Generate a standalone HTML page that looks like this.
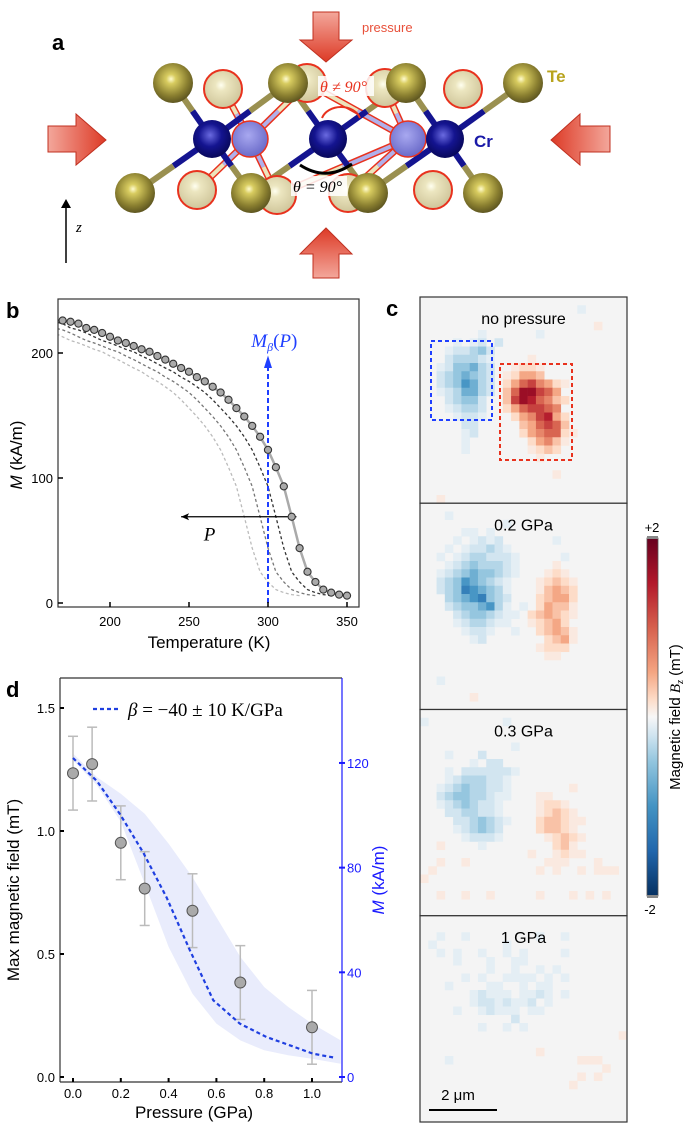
<!DOCTYPE html>
<html><head><meta charset="utf-8"><style>
html,body{margin:0;padding:0;background:#fff}
svg{display:block;font-family:"Liberation Sans",sans-serif}
</style></head><body>
<svg id="fig" width="685" height="1128" viewBox="0 0 685 1128" xmlns="http://www.w3.org/2000/svg">
<defs>
<radialGradient id="gTe" cx="0.45" cy="0.4" r="0.6"><stop offset="0" stop-color="#fffbd0"/><stop offset="0.2" stop-color="#d8cc60"/><stop offset="0.7" stop-color="#8a7f30"/><stop offset="1" stop-color="#5e5620"/></radialGradient>
<radialGradient id="gTeL" cx="0.45" cy="0.4" r="0.6"><stop offset="0" stop-color="#fffff0"/><stop offset="0.25" stop-color="#ece6c0"/><stop offset="1" stop-color="#cfc59a"/></radialGradient>
<radialGradient id="gCr" cx="0.45" cy="0.4" r="0.6"><stop offset="0" stop-color="#6a6ae0"/><stop offset="0.5" stop-color="#141490"/><stop offset="1" stop-color="#08085a"/></radialGradient>
<radialGradient id="gCrL" cx="0.45" cy="0.4" r="0.6"><stop offset="0" stop-color="#a8a8f0"/><stop offset="1" stop-color="#6a6ac8"/></radialGradient>
<linearGradient id="gArrH" x1="0" x2="1"><stop offset="0" stop-color="#f3a79b"/><stop offset="1" stop-color="#dd3a26"/></linearGradient>
<linearGradient id="gArrH2" x1="1" x2="0"><stop offset="0" stop-color="#f3a79b"/><stop offset="1" stop-color="#dd3a26"/></linearGradient>
<linearGradient id="gArrV" x1="0" x2="0" y1="0" y2="1"><stop offset="0" stop-color="#f3a79b"/><stop offset="1" stop-color="#dd3a26"/></linearGradient>
<linearGradient id="gArrV2" x1="0" x2="0" y1="1" y2="0"><stop offset="0" stop-color="#f3a79b"/><stop offset="1" stop-color="#dd3a26"/></linearGradient>
<linearGradient id="gCbar" x1="0" x2="0" y1="0" y2="1">
<stop offset="0" stop-color="#67001f"/><stop offset="0.125" stop-color="#b2182b"/><stop offset="0.25" stop-color="#d6604d"/><stop offset="0.375" stop-color="#f4a582"/><stop offset="0.45" stop-color="#fddbc7"/><stop offset="0.5" stop-color="#f7f7f7"/><stop offset="0.55" stop-color="#d1e5f0"/><stop offset="0.625" stop-color="#92c5de"/><stop offset="0.75" stop-color="#4393c3"/><stop offset="0.875" stop-color="#2166ac"/><stop offset="1" stop-color="#053061"/></linearGradient>
<clipPath id="clipB"><rect x="58" y="299" width="301" height="308"/></clipPath>
<clipPath id="clipD"><rect x="60" y="678" width="282" height="404"/></clipPath>
</defs>

<!-- Panel a -->
<g id="panelA">
<text x="52" y="50" font-size="22" font-weight="bold">a</text>
<g id="bonds"></g>
<g id="atoms"></g>
<path d="M322 118 A20 16 0 0 1 360 118" fill="none" stroke="#e8321e" stroke-width="2"/>
<path d="M300 165 Q326 182 352 164" fill="none" stroke="#000" stroke-width="3"/>
<rect x="318" y="76" width="56" height="20" fill="#fff" opacity="0.85"/>
<text x="320" y="92" font-size="16" fill="#e8321e" font-family="Liberation Serif,serif" font-style="italic">θ ≠ 90°</text>
<rect x="291" y="176" width="56" height="20" fill="#fff" opacity="0.85"/>
<text x="293" y="192" font-size="16" fill="#000" font-family="Liberation Serif,serif" font-style="italic">θ = 90°</text>
<text x="547" y="82" font-size="17" fill="#b8a31c" font-weight="bold">Te</text>
<text x="474" y="147" font-size="17" fill="#1a1aa8" font-weight="bold">Cr</text>
<path d="M313 12 H339 V40 H352 L326 62 L300 40 H313 Z" fill="url(#gArrV)" stroke="#c03020" stroke-width="1"/>
<text x="362" y="32" font-size="13" fill="#e8503a">pressure</text>
<path d="M313 278 H339 V254 H352 L326 228 L300 254 H313 Z" fill="url(#gArrV2)" stroke="#c03020" stroke-width="1"/>
<path d="M48 126 H76 V114 L106 140 L76 165 V152 H48 Z" fill="url(#gArrH)" stroke="#c03020" stroke-width="1"/>
<path d="M610 126 H580 V114 L551 140 L580 165 V152 H610 Z" fill="url(#gArrH2)" stroke="#c03020" stroke-width="1"/>
<line x1="66" y1="263" x2="66" y2="205" stroke="#000" stroke-width="1.5"/>
<path d="M61 208 L66 199 L71 208 Z" fill="#000"/>
<text x="76" y="232" font-size="15" font-style="italic" font-family="Liberation Serif,serif">z</text>
</g>

<!-- Panel b -->
<g id="panelB">
<text x="6" y="318" font-size="22" font-weight="bold">b</text>
<g id="bContent" clip-path="url(#clipB)"></g>
<rect x="58" y="299" width="301" height="308" fill="none" stroke="#333" stroke-width="1.2"/>
<g id="bAxes"></g>
<text x="209" y="648" font-size="17" text-anchor="middle">Temperature (K)</text>
<text transform="translate(22,455) rotate(-90)" font-size="17" text-anchor="middle"><tspan font-style="italic">M</tspan> (kA/m)</text>
</g>

<!-- Panel d -->
<g id="panelD">
<text x="6" y="697" font-size="22" font-weight="bold">d</text>
<g id="dContent" clip-path="url(#clipD)"></g>
<g id="dAxes"></g>
<line x1="93" y1="709" x2="120" y2="709" stroke="#1f3fe0" stroke-width="2.2" stroke-dasharray="4,3"/>
<text x="128" y="716" font-size="19" font-family="Liberation Serif,serif"><tspan font-style="italic">β</tspan> = −40 ± 10 K/GPa</text>
<text x="194" y="1118" font-size="17" text-anchor="middle">Pressure (GPa)</text>
<text transform="translate(19,890) rotate(-90)" font-size="17" text-anchor="middle">Max magnetic field (mT)</text>
<text transform="translate(384,880) rotate(-90)" font-size="17" text-anchor="middle" fill="#1a1aff"><tspan font-style="italic">M</tspan> (kA/m)</text>
</g>

<!-- Panel c -->
<g id="panelC">
<text x="386" y="316" font-size="22" font-weight="bold">c</text>
<g id="cMaps"></g>
<rect x="647" y="538" width="11" height="358" fill="url(#gCbar)" stroke="#555" stroke-width="0.8"/>
<rect x="647" y="536" width="11" height="3" fill="#888"/>
<rect x="647" y="895" width="11" height="3" fill="#888"/>
<text x="652" y="532" font-size="13" text-anchor="middle">+2</text>
<text x="650" y="914" font-size="13" text-anchor="middle">-2</text>
<text transform="translate(680,717) rotate(-90)" font-size="15" text-anchor="middle">Magnetic field <tspan font-style="italic" font-family="Liberation Serif,serif">B<tspan font-size="10" dy="3">z</tspan></tspan><tspan dy="-3"> (mT)</tspan></text>
<line x1="429" y1="1110" x2="497" y2="1110" stroke="#000" stroke-width="2"/>
<text x="458" y="1100" font-size="15" text-anchor="middle">2 μm</text>
</g>
</svg>
<script>
var NS="http://www.w3.org/2000/svg";
// ---- Panel b data ----
var tempK=[170,175,180,185,190,195,200,205,210,215,220,225,230,235,240,245,250,255,260,265,270,275,280,285,290,295,300,305,310,315,320,325,330,335,340,345,350];
var magM=[226,225,223.5,220,218.5,216,213,210,208,205.6,203,201,197.6,194.7,191.4,188,185,180.7,177.3,173,168.4,162.6,155.9,149.2,141.7,133,122.5,108.6,93.3,69,43.9,25,16.8,10.7,8.3,6.7,5.9];
var curveShifts=[10,20,30];
var curveColors=["#333","#777","#bbb"];
var bXTicks=[200,250,300,350];
var bYTicks=[0,100,200];
// ---- Panel d data ----
var pressure=[0,0.08,0.2,0.3,0.5,0.7,1.0];
var maxField=[1.235,1.272,0.952,0.766,0.676,0.384,0.202];
var fieldErr=[0.15,0.15,0.15,0.15,0.15,0.15,0.15];
var fitP=[0,0.1,0.197,0.294,0.392,0.489,0.587,0.698,0.809,0.907,1.004,1.10];
var fitM=[121.9,113.1,100.4,85.7,68.5,48.4,29.3,20.4,15.3,12.1,8.9,7.3];
var bandP=[0,0.1,0.2,0.3,0.4,0.5,0.6,0.7,0.8,0.9,1.0,1.12];
var bandUpper=[123.6,114.6,108.2,100.6,89.2,76.4,61.1,45.9,34.4,26.8,20.4,14.0];
var bandLower=[121.0,111.5,97.5,73.9,49.7,31.8,20.4,14.0,10.2,8.3,7.0,5.1];
var dXTicks=[0,0.2,0.4,0.6,0.8,1.0];
var dYTicks=[0,0.5,1.0,1.5];
var dRTicks=[0,40,80,120];
// ---- Panel c data (a-i = negative 1..9, 1-9 positive) ----
var mapTitles=["no pressure","0.2 GPa","0.3 GPa","1 GPa"];
var map0=["........................","...................a.....","........................",".....................1...",".......a......a..........","....a.ab.b...............","...abbcdb................","...bcccba....1...........","..abddecb..1221..........","..bcdedcb.12443..........","..bcdfecb.24675421.......","..abceecb.3699764........","...bcddb..37986532.......","...abccb..2467765........","....abba...2457842.......",".....bb.....346763.......",".....ab.....2456621......",".....a.......24531.......",".....a.......1232........","..............1..........","........................","................1........","........................","........................","..1......................"];
var map1=["........................","...a.....................","..........a..............",".....aa.a................","....a.abab......a........","...a.abbcba..............","..a.abccbbba.....a.......","...abcdcccba....1........","..abcdeddcba...121.......","..bcdfedcba...12321......","..bcdgfedca...13432......","...cdefgdcb...23442......","...bcddefca.a.24331......","....bcddcbaa.234321......","....abccbaa..12342.......",".....abba..a..23431......","......ab.......2341......","..............1222.......","...............11........","........................","........................","..a......................","........................","......1..................","........................"];
var map2=["........................","a.........a..............","........................","........................","...........a.............","...a...b.................","......a.bb...............","...a.bbbbbba.............","...abcccbba..............","..abcdccbba.......1......","..bcddccbaa...11.........","..abcdcbba....1221.......","...bbccbba....12321......","....bbcdcba...233211.....","....abcdcb....23321......",".....abbba.....12321.....","..1....a........231......",".............1..1211.....","..1..1.........111...1...",".1............1.1..1.111.","1........................","........................","..1..1..1.....1...1.1.1..","........................","........................"];
var map3=["........................","........................","..a..a........a..a.......",".a........a..............","..a.a..a..a.a....a.......","....a...a..aa............","........a..a..a.a........",".....a.a..aaaa.a.a.......","...a....aa..a.aa.........","......abaaa.aaba.a.......","......abbabaab.a.........","....a..abaaa.aa..........","...........b.............",".......a..a.a............","........................1","........................","..............1..........","...a...............111...","......................1..","...................1.1...","..................1......","........................","........................","........................","........................"];
var maps=[map0,map1,map2,map3];

function el(tag,attrs,parent){var e=document.createElementNS(NS,tag);for(var k in attrs)e.setAttribute(k,attrs[k]);parent.appendChild(e);return e;}

// ---- Panel a ----
(function(){
 var bonds=document.getElementById('bonds'),atoms=document.getElementById('atoms');
 var teTop=[[173,83],[288,83],[406,83],[523,83]],teBot=[[135,193],[251,193],[368,193],[483,193]];
 var teTopL=[[223,89],[307,83],[385,88],[463,89]],teBotL=[[197,190],[277,195],[348,193],[433,190]];
 var cr=[[212,139],[328,139],[445,139]],crL=[[250,139],[408,139]];
 function bond(a,b,c1,c2,w){var mx=(a[0]+b[0])/2,my=(a[1]+b[1])/2;
  el('line',{x1:a[0],y1:a[1],x2:mx,y2:my,stroke:c1,'stroke-width':w},bonds);
  el('line',{x1:mx,y1:my,x2:b[0],y2:b[1],stroke:c2,'stroke-width':w},bonds);}
 crL.forEach(function(c,i){[teTopL[i+1],teTopL[i],teBotL[i],teBotL[i+1]].forEach(function(t){
   el('line',{x1:c[0],y1:c[1],x2:t[0],y2:t[1],stroke:'#e8321e','stroke-width':7},bonds);
   bond(c,t,'#b0b0ea','#ece4bc',4);});});
 cr.forEach(function(c,i){[teTop[i],teTop[i+1],teBot[i],teBot[i+1]].forEach(function(t){bond(c,t,'#141490','#9a9050',6);});});
 teTopL.concat(teBotL).forEach(function(p){var c=el('circle',{cx:p[0],cy:p[1],r:19,fill:'url(#gTeL)',stroke:'#e8321e','stroke-width':2},atoms);
  });
 crL.forEach(function(p){var c=el('circle',{cx:p[0],cy:p[1],r:18,fill:'url(#gCrL)',stroke:'#e8321e','stroke-width':1.5},atoms);
  });
 cr.forEach(function(p){var c=el('circle',{cx:p[0],cy:p[1],r:19,fill:'url(#gCr)'},atoms);
  });
 teTop.concat(teBot).forEach(function(p){var c=el('circle',{cx:p[0],cy:p[1],r:20,fill:'url(#gTe)'},atoms);
  });
})();

// ---- Panel b ----
function xb(T){return 110+(T-200)*237/150;}
function yb(M){return 603-M*1.25;}
(function(){
 var g=document.getElementById('bContent'),ax=document.getElementById('bAxes');
 curveShifts.forEach(function(s,k){var d=tempK.map(function(T,i){return (i?'L':'M')+xb(T-s).toFixed(1)+' '+yb(magM[i]).toFixed(1);}).join(' ');
  var p=el('path',{d:d,fill:'none',stroke:curveColors[k],'stroke-width':1.3,'stroke-dasharray':'3,2.5'},g);
  });
 var d=tempK.map(function(T,i){return (i?'L':'M')+xb(T).toFixed(1)+' '+yb(magM[i]).toFixed(1);}).join(' ');
 var p=el('path',{d:d,fill:'none',stroke:'#aaa','stroke-width':2.5},g);
 
 var v=el('line',{x1:xb(300),y1:yb(0),x2:xb(300),y2:yb(190),stroke:'#1f3fff','stroke-width':2,'stroke-dasharray':'5,3'},g);
 
 var ah=el('path',{d:'M'+(xb(300)-4)+' '+(yb(188))+' L'+xb(300)+' '+yb(198)+' L'+(xb(300)+4)+' '+yb(188)+' Z',fill:'#1f3fff'},g);
 
 var pa=el('line',{x1:xb(318),y1:yb(69),x2:xb(245),y2:yb(69),stroke:'#000','stroke-width':1.2},g);
 
 el('path',{d:'M'+xb(245)+' '+yb(69)+' l8 -3.5 l-2 3.5 l2 3.5 Z',fill:'#000'},g);
 tempK.forEach(function(T,i){var c=el('circle',{cx:xb(T),cy:yb(magM[i]),r:3.6,fill:'#aaa',stroke:'#333','stroke-width':1.1},g);
  });
 var t=el('text',{x:xb(263),y:yb(50),'font-size':19,'font-style':'italic','font-family':'Liberation Serif,serif','text-anchor':'middle'},ax);t.textContent='P';
 
 var m=el('text',{x:xb(304),y:yb(205),'font-size':19,'font-style':'italic','font-family':'Liberation Serif,serif','text-anchor':'middle',fill:'#1f3fff'},ax);
 m.innerHTML='M<tspan font-size="12" dy="4">β</tspan><tspan dy="-4" font-style="normal">(</tspan>P<tspan font-style="normal">)</tspan>';
 
 bXTicks.forEach(function(T){el('line',{x1:xb(T),y1:607,x2:xb(T),y2:602,stroke:'#000','stroke-width':1.5},ax);
  var tt=el('text',{x:xb(T),y:626,'font-size':13,'text-anchor':'middle'},ax);tt.textContent=T;
  });
 bYTicks.forEach(function(M){el('line',{x1:58,y1:yb(M),x2:63,y2:yb(M),stroke:'#000','stroke-width':1.5},ax);
  var tt=el('text',{x:53,y:yb(M)+5,'font-size':13,'text-anchor':'end'},ax);tt.textContent=M;
  });
})();

// ---- Panel d ----
function xd(P){return 73+P*239;}
function yd(B){return 1077-B*246;}
function yr(M){return 1077-M*2.617;}
(function(){
 var g=document.getElementById('dContent'),ax=document.getElementById('dAxes');
 var d=bandP.map(function(P,i){return (i?'L':'M')+xd(P).toFixed(1)+' '+yr(bandUpper[i]).toFixed(1);}).join(' ');
 for(var i=bandP.length-1;i>=0;i--)d+=' L'+xd(bandP[i]).toFixed(1)+' '+yr(bandLower[i]).toFixed(1);
 var b=el('path',{d:d+' Z',fill:'#e9ecfc'},g);
 pressure.forEach(function(P,i){var x=xd(P);
  var e=el('line',{x1:x,y1:yd(maxField[i]-fieldErr[i]),x2:x,y2:yd(maxField[i]+fieldErr[i]),stroke:'#bbb','stroke-width':1.5},g);
  
  el('line',{x1:x-5,y1:yd(maxField[i]-fieldErr[i]),x2:x+5,y2:yd(maxField[i]-fieldErr[i]),stroke:'#bbb','stroke-width':1.5},g);
  el('line',{x1:x-5,y1:yd(maxField[i]+fieldErr[i]),x2:x+5,y2:yd(maxField[i]+fieldErr[i]),stroke:'#bbb','stroke-width':1.5},g);});
 var fd=fitP.map(function(P,i){return (i?'L':'M')+xd(P).toFixed(1)+' '+yr(fitM[i]).toFixed(1);}).join(' ');
 var f=el('path',{d:fd,fill:'none',stroke:'#1f3fe0','stroke-width':2.2,'stroke-dasharray':'4,3'},g);
 
 pressure.forEach(function(P,i){var c=el('circle',{cx:xd(P),cy:yd(maxField[i]),r:5.5,fill:'#aaa',stroke:'#555','stroke-width':1},g);
  });
 el('line',{x1:60,y1:678,x2:342,y2:678,stroke:'#333','stroke-width':1.2},ax);
 el('line',{x1:60,y1:678,x2:60,y2:1082,stroke:'#333','stroke-width':1.2},ax);
 el('line',{x1:60,y1:1082,x2:342,y2:1082,stroke:'#333','stroke-width':1.2},ax);
 var ra=el('line',{x1:342,y1:678,x2:342,y2:1082,stroke:'#1a1aff','stroke-width':1.2},ax);
 
 dXTicks.forEach(function(P){el('line',{x1:xd(P),y1:1082,x2:xd(P),y2:1078,stroke:'#000','stroke-width':2},ax);
  var t=el('text',{x:xd(P),y:1098,'font-size':13,'text-anchor':'middle'},ax);t.textContent=P.toFixed(1);
  });
 dYTicks.forEach(function(B){el('line',{x1:60,y1:yd(B),x2:64,y2:yd(B),stroke:'#000','stroke-width':2},ax);
  var t=el('text',{x:55,y:yd(B)+5,'font-size':13,'text-anchor':'end'},ax);t.textContent=B.toFixed(1);
  });
 dRTicks.forEach(function(M){el('line',{x1:339,y1:yr(M),x2:345,y2:yr(M),stroke:'#1a1aff','stroke-width':2},ax);
  var t=el('text',{x:347,y:yr(M)+5,'font-size':13,fill:'#1a1aff'},ax);t.textContent=M;
  });
})();

// ---- Panel c ----
var posStops=[[247,247,247],[253,219,199],[244,165,130],[214,96,77],[178,24,43],[120,0,30]];
var negStops=[[247,247,247],[209,229,240],[146,197,222],[67,147,195],[33,102,172],[5,48,97]];
function cmap(v){var st=v>=0?posStops:negStops;var f=Math.min(Math.abs(v)/9,1)*4.4;var i=Math.min(Math.floor(f),4),t=f-i;
 var a=st[i],b=st[i+1];return 'rgb('+a.map(function(x,k){return Math.round(x+(b[k]-x)*t);}).join(',')+')';}
function decode(ch){if(ch>='1'&&ch<='9')return +ch;if(ch>='a'&&ch<='i')return -(ch.charCodeAt(0)-96);return 0;}
(function(){
 var g=document.getElementById('cMaps');var X0=420,W=207,Y0=297,H=206.25,N=25,cw=W/N,ch=H/N;
 maps.forEach(function(m,pi){var y0=Y0+pi*H;
  var bg=el('rect',{x:X0,y:y0,width:W,height:H,fill:'#f4f4f4'},g);
  
  m.forEach(function(row,r){for(var c=0;c<N&&c<row.length;c++){var v=decode(row[c]);if(!v)continue;
   var cell=el('rect',{x:(X0+c*cw).toFixed(2),y:(y0+r*ch).toFixed(2),width:(cw+0.3).toFixed(2),height:(ch+0.3).toFixed(2),fill:cmap(v)},g);
   }});
  var t=el('text',{x:X0+W/2,y:y0+27,'font-size':16,'text-anchor':'middle'},g);t.textContent=mapTitles[pi];
  
  el('rect',{x:X0,y:y0,width:W,height:H,fill:'none',stroke:'#333','stroke-width':1.2},g);
 });
 var bb=el('rect',{x:431,y:341,width:61,height:79,fill:'none',stroke:'#1f3fff','stroke-width':2,'stroke-dasharray':'4,3'},g);
 
 var rb=el('rect',{x:500,y:364,width:72,height:96,fill:'none',stroke:'#e8321e','stroke-width':2,'stroke-dasharray':'4,3'},g);
 
})();
</script>
</body></html>
